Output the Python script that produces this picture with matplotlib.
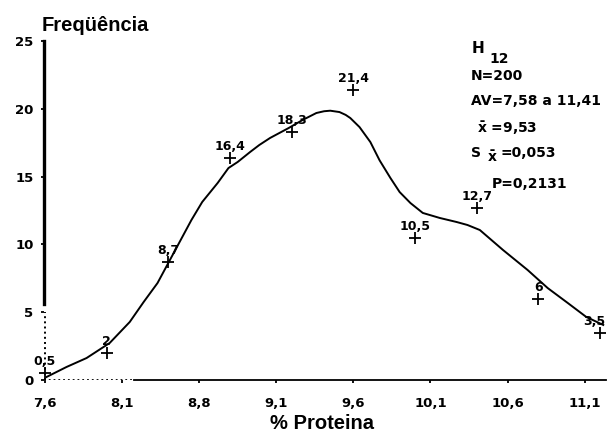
import matplotlib
matplotlib.use("Agg")
import matplotlib.pyplot as plt

plt.rcParams['mathtext.fontset'] = 'dejavusans'
plt.rcParams['mathtext.default'] = 'bf'

# ---- data ----
class_pos = [7.6, 8.0, 8.4, 8.8, 9.2, 9.6, 10.0, 10.4, 10.8, 11.2]
freq = [0.5, 2, 8.7, 16.4, 18.3, 21.4, 10.5, 12.7, 6, 3.5]
freq_labels = ["0,5", "2", "8,7", "16,4", "18,3", "21,4", "10,5", "12,7", "6", "3,5"]

curve_x = [7.61, 7.74, 7.87, 8.02, 8.15, 8.24, 8.33, 8.40, 8.48, 8.55, 8.62, 8.72,
           8.79, 8.85, 8.93, 8.99, 9.06, 9.18, 9.27, 9.36, 9.41, 9.45, 9.51, 9.55,
           9.58, 9.64, 9.71, 9.77, 9.84, 9.90, 9.97, 10.05, 10.16, 10.27, 10.34,
           10.42, 10.57, 10.73, 10.86, 10.99, 11.11, 11.22]
curve_y = [0.22, 0.96, 1.62, 2.73, 4.28, 5.75, 7.15, 8.63, 10.32, 11.80, 13.13, 14.53,
           15.63, 16.08, 16.81, 17.33, 17.85, 18.58, 19.17, 19.69, 19.82, 19.86, 19.76,
           19.55, 19.32, 18.65, 17.55, 16.20, 14.90, 13.86, 13.05, 12.32, 11.95, 11.65,
           11.43, 11.06, 9.59, 8.11, 6.78, 5.68, 4.65, 4.06]

x_ticks = [7.6, 8.1, 8.6, 9.1, 9.6, 10.1, 10.6, 11.1]
x_tick_labels = ["7,6", "8,1", "8,8", "9,1", "9,6", "10,1", "10,6", "11,1"]
y_ticks = [0, 5, 10, 15, 20, 25]
y_tick_labels = ["0", "5", "10", "15", "20", "25"]

W, H = 607, 432
fig = plt.figure(figsize=(W / 100, H / 100), dpi=100)
ax = fig.add_axes([44 / W, 52 / H, 562 / W, 339 / H])
ax.set_xlim(7.594, 11.238)
ax.set_ylim(0, 25)

num_font = dict(family='DejaVu Sans', weight='bold')

# curve and points
ax.plot(curve_x, curve_y, color='black', lw=1.4, clip_on=False,
        solid_joinstyle='round')
ax.plot(class_pos, freq, linestyle='none', marker='+', ms=9, mew=1.3,
        color='black', clip_on=False)
for i, (x, y, lab) in enumerate(zip(class_pos, freq, freq_labels)):
    dx = -4 if i == len(freq) - 1 else 0
    ax.annotate(lab, (x, y), xytext=(dx, 3.5), textcoords='offset points',
                ha='center', va='bottom', fontsize=9, annotation_clip=False,
                **num_font)

# axes lines
for s in ['top', 'right']:
    ax.spines[s].set_visible(False)
ax.spines['left'].set_bounds(5.6, 25)
ax.spines['left'].set_linewidth(2.4)
ax.spines['bottom'].set_bounds(8.18, 11.238)
ax.spines['bottom'].set_linewidth(1.3)
ax.axvline(7.6, ymin=0, ymax=5 / 25, ls=':', lw=1.4, color='black')
ax.axhline(0, xmin=0, xmax=0.161, ls=':', lw=1.3, color='black')

ax.set_xticks(x_ticks)
ax.set_xticklabels(x_tick_labels, fontsize=9.5, **num_font)
ax.set_yticks(y_ticks)
ax.set_yticklabels(y_tick_labels, fontsize=9.5, **num_font)
ax.tick_params(axis='x', direction='out', length=2.5, width=1.3, pad=10)
ax.tick_params(axis='y', direction='out', length=2.5, width=1.3, pad=5)

def fx(px):
    return px / W

def fy(py):
    return 1 - py / H

word_font = dict(family='Liberation Sans', weight='bold')
fig.text(fx(42), fy(31), "Freqüência", fontsize=14.5, va='baseline', ha='left', **word_font)
fig.text(fx(322), fy(429), "% Proteina", fontsize=14.5, va='baseline', ha='center', **word_font)

# statistics block
st = dict(fontsize=10, va='baseline', ha='left', **num_font)
fig.text(fx(472), fy(53), "H", fontsize=11, va='baseline', ha='left', **num_font)
fig.text(fx(489), fy(63), "12", **st)
fig.text(fx(471), fy(80), "N=200", **st)
fig.text(fx(471), fy(105), "AV=7,58 a 11,41", **st)
fig.text(fx(477), fy(133), r"$\bar{x}$ =9,53", **st)
fig.text(fx(471), fy(157), "S", **st)
fig.text(fx(487), fy(162), r"$\bar{x}$", **st)
fig.text(fx(501), fy(157), "=0,053", **st)
fig.text(fx(492), fy(188), "P=0,2131", **st)

fig.savefig("out.png", dpi=100)
